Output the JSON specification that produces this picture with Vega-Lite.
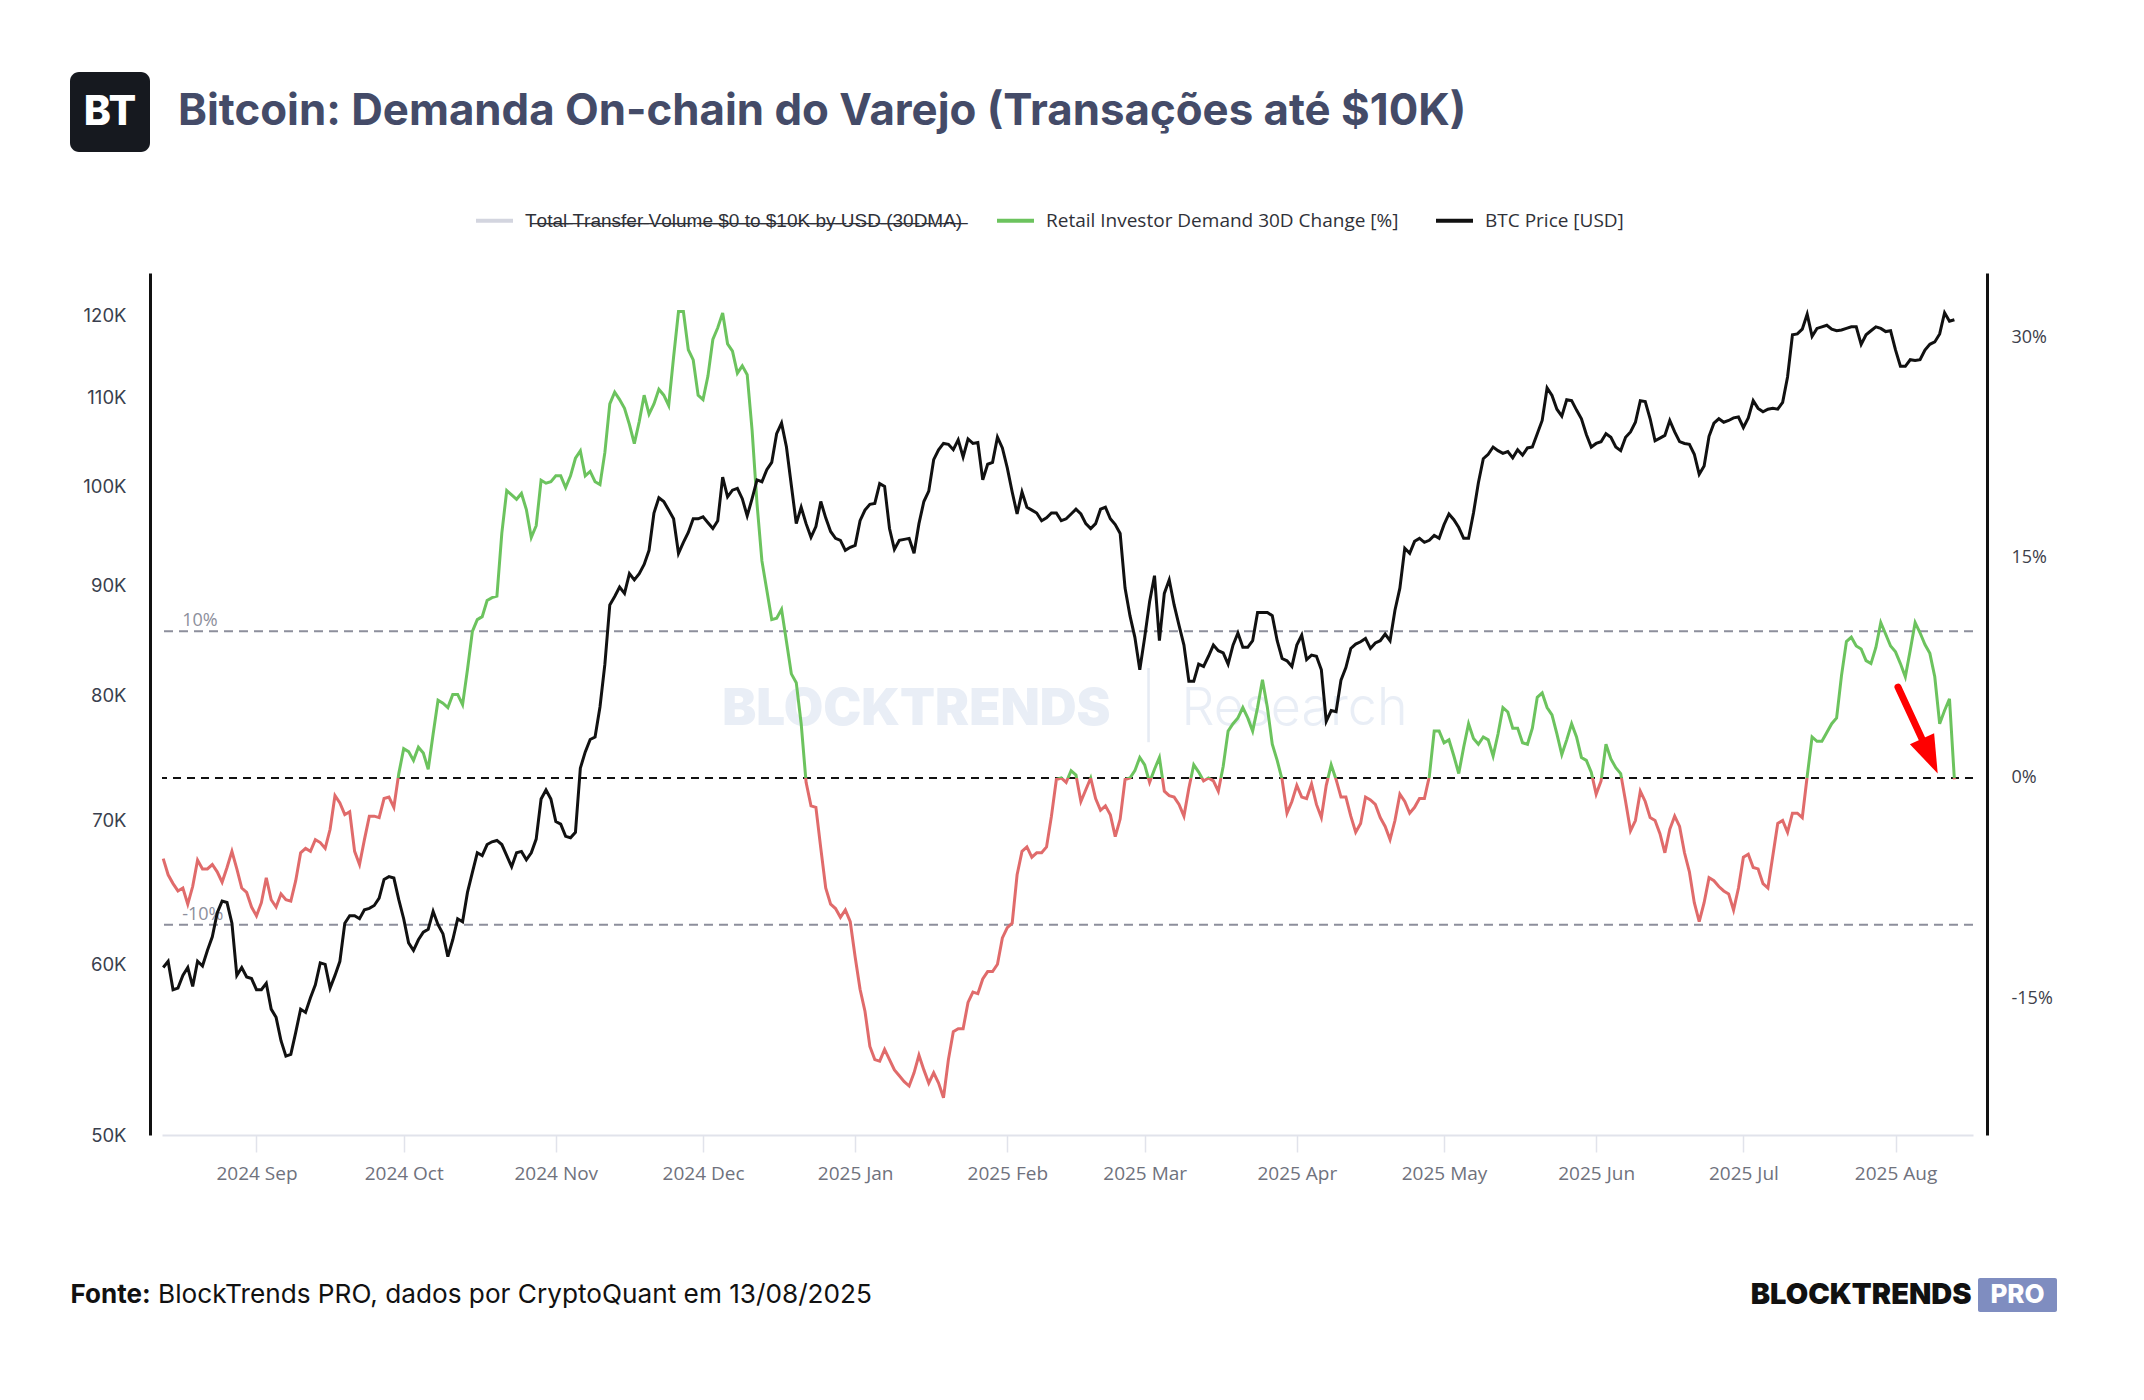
{
  "$schema": "https://vega.github.io/schema/vega-lite/v6.json",
  "background": "#ffffff",
  "padding": {"left": 70, "top": 66, "right": 0, "bottom": 0},
  "config": {"view": {"stroke": null}},
  "datasets": {
    "series": [
      {"d":"2024-08-13","p":59800,"r":-5.5},{"d":"2024-08-14","p":60200,"r":-6.6},{"d":"2024-08-15","p":58400,"r":-7.2},{"d":"2024-08-16","p":58500,"r":-7.7},
      {"d":"2024-08-17","p":59300,"r":-7.5},{"d":"2024-08-18","p":59800,"r":-8.6},{"d":"2024-08-19","p":58600,"r":-7.4},{"d":"2024-08-20","p":60200,"r":-5.6},
      {"d":"2024-08-21","p":59900,"r":-6.2},{"d":"2024-08-22","p":60900,"r":-6.2},{"d":"2024-08-23","p":61800,"r":-5.9},{"d":"2024-08-24","p":63400,"r":-6.4},
      {"d":"2024-08-25","p":64200,"r":-7.1},{"d":"2024-08-26","p":64100,"r":-6.1},{"d":"2024-08-27","p":62700,"r":-5.0},{"d":"2024-08-28","p":59300,"r":-6.2},
      {"d":"2024-08-29","p":59800,"r":-7.5},{"d":"2024-08-30","p":59200,"r":-7.8},{"d":"2024-08-31","p":59100,"r":-8.8},
      {"d":"2024-09-01","p":58400,"r":-9.4},{"d":"2024-09-02","p":58400,"r":-8.5},{"d":"2024-09-03","p":58800,"r":-6.8},{"d":"2024-09-04","p":57200,"r":-8.3},
      {"d":"2024-09-05","p":56700,"r":-8.8},{"d":"2024-09-06","p":55300,"r":-7.9},{"d":"2024-09-07","p":54400,"r":-8.3},{"d":"2024-09-08","p":54500,"r":-8.4},
      {"d":"2024-09-09","p":55800,"r":-7.0},{"d":"2024-09-10","p":57200,"r":-5.1},{"d":"2024-09-11","p":57000,"r":-4.8},{"d":"2024-09-12","p":57900,"r":-5.0},
      {"d":"2024-09-13","p":58700,"r":-4.2},{"d":"2024-09-14","p":60100,"r":-4.4},{"d":"2024-09-15","p":60000,"r":-4.8},{"d":"2024-09-16","p":58500,"r":-3.5},
      {"d":"2024-09-17","p":59300,"r":-1.2},{"d":"2024-09-18","p":60200,"r":-1.7},{"d":"2024-09-19","p":62700,"r":-2.5},{"d":"2024-09-20","p":63200,"r":-2.3},
      {"d":"2024-09-21","p":63200,"r":-5.0},{"d":"2024-09-22","p":63000,"r":-5.9},{"d":"2024-09-23","p":63600,"r":-4.2},{"d":"2024-09-24","p":63700,"r":-2.6},
      {"d":"2024-09-25","p":63900,"r":-2.6},{"d":"2024-09-26","p":64400,"r":-2.7},{"d":"2024-09-27","p":65700,"r":-1.4},{"d":"2024-09-28","p":65900,"r":-1.3},
      {"d":"2024-09-29","p":65800,"r":-2.0},{"d":"2024-09-30","p":64300,"r":0.3},
      {"d":"2024-10-01","p":63000,"r":2.0},{"d":"2024-10-02","p":61400,"r":1.8},{"d":"2024-10-03","p":60900,"r":1.2},{"d":"2024-10-04","p":61600,"r":2.1},
      {"d":"2024-10-05","p":62100,"r":1.7},{"d":"2024-10-06","p":62300,"r":0.6},{"d":"2024-10-07","p":63500,"r":3.0},{"d":"2024-10-08","p":62600,"r":5.3},
      {"d":"2024-10-09","p":62000,"r":5.1},{"d":"2024-10-10","p":60500,"r":4.8},{"d":"2024-10-11","p":61600,"r":5.7},{"d":"2024-10-12","p":63000,"r":5.7},
      {"d":"2024-10-13","p":62800,"r":5.0},{"d":"2024-10-14","p":64800,"r":7.4},{"d":"2024-10-15","p":66200,"r":10.0},{"d":"2024-10-16","p":67600,"r":10.8},
      {"d":"2024-10-17","p":67400,"r":11.0},{"d":"2024-10-18","p":68200,"r":12.1},{"d":"2024-10-19","p":68400,"r":12.3},{"d":"2024-10-20","p":68500,"r":12.4},
      {"d":"2024-10-21","p":68200,"r":16.7},{"d":"2024-10-22","p":67400,"r":19.6},{"d":"2024-10-23","p":66600,"r":19.3},{"d":"2024-10-24","p":67600,"r":19.0},
      {"d":"2024-10-25","p":67700,"r":19.4},{"d":"2024-10-26","p":67100,"r":18.3},{"d":"2024-10-27","p":67600,"r":16.4},{"d":"2024-10-28","p":68600,"r":17.2},
      {"d":"2024-10-29","p":71600,"r":20.3},{"d":"2024-10-30","p":72300,"r":20.1},{"d":"2024-10-31","p":71600,"r":20.2},
      {"d":"2024-11-01","p":69900,"r":20.6},{"d":"2024-11-02","p":69700,"r":20.6},{"d":"2024-11-03","p":68800,"r":19.8},{"d":"2024-11-04","p":68700,"r":20.6},
      {"d":"2024-11-05","p":69100,"r":21.8},{"d":"2024-11-06","p":74000,"r":22.3},{"d":"2024-11-07","p":75300,"r":20.6},{"d":"2024-11-08","p":76300,"r":20.9},
      {"d":"2024-11-09","p":76500,"r":20.2},{"d":"2024-11-10","p":79000,"r":20.0},{"d":"2024-11-11","p":82700,"r":22.2},{"d":"2024-11-12","p":88100,"r":25.5},
      {"d":"2024-11-13","p":88900,"r":26.3},{"d":"2024-11-14","p":89800,"r":25.8},{"d":"2024-11-15","p":89200,"r":25.2},{"d":"2024-11-16","p":91100,"r":24.1},
      {"d":"2024-11-17","p":90500,"r":22.8},{"d":"2024-11-18","p":91100,"r":24.3},{"d":"2024-11-19","p":92000,"r":26.1},{"d":"2024-11-20","p":93400,"r":24.8},
      {"d":"2024-11-21","p":97200,"r":25.5},{"d":"2024-11-22","p":98800,"r":26.5},{"d":"2024-11-23","p":98400,"r":26.1},{"d":"2024-11-24","p":97500,"r":25.4},
      {"d":"2024-11-25","p":96600,"r":28.7},{"d":"2024-11-26","p":93100,"r":31.8},{"d":"2024-11-27","p":94200,"r":31.8},{"d":"2024-11-28","p":95200,"r":29.2},
      {"d":"2024-11-29","p":96600,"r":28.5},{"d":"2024-11-30","p":96600,"r":26.1},
      {"d":"2024-12-01","p":96800,"r":25.8},{"d":"2024-12-02","p":96200,"r":27.4},{"d":"2024-12-03","p":95600,"r":29.9},{"d":"2024-12-04","p":96400,"r":30.7},
      {"d":"2024-12-05","p":101000,"r":31.7},{"d":"2024-12-06","p":98900,"r":29.6},{"d":"2024-12-07","p":99600,"r":29.1},{"d":"2024-12-08","p":99800,"r":27.6},
      {"d":"2024-12-09","p":98700,"r":28.1},{"d":"2024-12-10","p":96900,"r":27.5},{"d":"2024-12-11","p":98700,"r":23.7},{"d":"2024-12-12","p":100700,"r":18.7},
      {"d":"2024-12-13","p":100500,"r":14.8},{"d":"2024-12-14","p":101800,"r":12.8},{"d":"2024-12-15","p":102600,"r":10.8},{"d":"2024-12-16","p":105800,"r":10.9},
      {"d":"2024-12-17","p":107000,"r":11.5},{"d":"2024-12-18","p":104300,"r":9.3},{"d":"2024-12-19","p":100100,"r":7.1},{"d":"2024-12-20","p":96100,"r":6.5},
      {"d":"2024-12-21","p":97800,"r":3.7},{"d":"2024-12-22","p":96100,"r":-0.3},{"d":"2024-12-23","p":94700,"r":-1.9},{"d":"2024-12-24","p":95800,"r":-2.0},
      {"d":"2024-12-25","p":98400,"r":-4.8},{"d":"2024-12-26","p":96700,"r":-7.5},{"d":"2024-12-27","p":95300,"r":-8.6},{"d":"2024-12-28","p":94600,"r":-8.9},
      {"d":"2024-12-29","p":94400,"r":-9.5},{"d":"2024-12-30","p":93400,"r":-9.0},{"d":"2024-12-31","p":93700,"r":-9.8},
      {"d":"2025-01-01","p":93900,"r":-12.2},{"d":"2025-01-02","p":96400,"r":-14.4},{"d":"2025-01-03","p":97500,"r":-15.9},{"d":"2025-01-04","p":98100,"r":-18.3},
      {"d":"2025-01-05","p":98200,"r":-19.2},{"d":"2025-01-06","p":100300,"r":-19.3},{"d":"2025-01-07","p":100000,"r":-18.5},{"d":"2025-01-08","p":95600,"r":-19.2},
      {"d":"2025-01-09","p":93500,"r":-19.9},{"d":"2025-01-10","p":94400,"r":-20.3},{"d":"2025-01-11","p":94500,"r":-20.7},{"d":"2025-01-12","p":94600,"r":-21.0},
      {"d":"2025-01-13","p":93100,"r":-20.1},{"d":"2025-01-14","p":96100,"r":-18.9},{"d":"2025-01-15","p":98400,"r":-19.9},{"d":"2025-01-16","p":99500,"r":-20.8},
      {"d":"2025-01-17","p":102900,"r":-20.1},{"d":"2025-01-18","p":104000,"r":-20.8},{"d":"2025-01-19","p":104700,"r":-21.8},{"d":"2025-01-20","p":104600,"r":-19.2},
      {"d":"2025-01-21","p":104000,"r":-17.3},{"d":"2025-01-22","p":105100,"r":-17.1},{"d":"2025-01-23","p":103200,"r":-17.1},{"d":"2025-01-24","p":105200,"r":-15.3},
      {"d":"2025-01-25","p":104700,"r":-14.6},{"d":"2025-01-26","p":104800,"r":-14.7},{"d":"2025-01-27","p":100700,"r":-13.7},{"d":"2025-01-28","p":102400,"r":-13.2},
      {"d":"2025-01-29","p":102600,"r":-13.2},{"d":"2025-01-30","p":105400,"r":-12.7},{"d":"2025-01-31","p":104200,"r":-10.9},
      {"d":"2025-02-01","p":102000,"r":-10.2},{"d":"2025-02-02","p":99400,"r":-9.9},{"d":"2025-02-03","p":97100,"r":-6.6},{"d":"2025-02-04","p":99400,"r":-5.0},
      {"d":"2025-02-05","p":97800,"r":-4.7},{"d":"2025-02-06","p":97500,"r":-5.4},{"d":"2025-02-07","p":97200,"r":-5.1},{"d":"2025-02-08","p":96400,"r":-5.1},
      {"d":"2025-02-09","p":96700,"r":-4.7},{"d":"2025-02-10","p":97200,"r":-2.6},{"d":"2025-02-11","p":97200,"r":-0.1},{"d":"2025-02-12","p":96400,"r":0.0},
      {"d":"2025-02-13","p":96600,"r":-0.3},{"d":"2025-02-14","p":97100,"r":0.5},{"d":"2025-02-15","p":97600,"r":0.2},{"d":"2025-02-16","p":97100,"r":-1.6},
      {"d":"2025-02-17","p":96100,"r":-0.8},{"d":"2025-02-18","p":95600,"r":0.0},{"d":"2025-02-19","p":96100,"r":-1.4},{"d":"2025-02-20","p":97600,"r":-2.2},
      {"d":"2025-02-21","p":97800,"r":-1.9},{"d":"2025-02-22","p":96600,"r":-2.5},{"d":"2025-02-23","p":96000,"r":-4.0},{"d":"2025-02-24","p":95100,"r":-2.8},
      {"d":"2025-02-25","p":89700,"r":-0.1},{"d":"2025-02-26","p":87100,"r":0.0},{"d":"2025-02-27","p":85100,"r":0.5},{"d":"2025-02-28","p":82200,"r":1.4},
      {"d":"2025-03-01","p":85100,"r":0.9},{"d":"2025-03-02","p":88400,"r":-0.3},{"d":"2025-03-03","p":90900,"r":0.6},{"d":"2025-03-04","p":84800,"r":1.4},
      {"d":"2025-03-05","p":89200,"r":-0.9},{"d":"2025-03-06","p":90500,"r":-1.2},{"d":"2025-03-07","p":88100,"r":-1.3},{"d":"2025-03-08","p":86200,"r":-1.8},
      {"d":"2025-03-09","p":84400,"r":-2.6},{"d":"2025-03-10","p":81200,"r":-0.7},{"d":"2025-03-11","p":81200,"r":0.9},{"d":"2025-03-12","p":82700,"r":0.4},
      {"d":"2025-03-13","p":82500,"r":-0.2},{"d":"2025-03-14","p":83400,"r":0.0},{"d":"2025-03-15","p":84400,"r":-0.2},{"d":"2025-03-16","p":83900,"r":-0.9},
      {"d":"2025-03-17","p":83700,"r":0.8},{"d":"2025-03-18","p":82700,"r":3.2},{"d":"2025-03-19","p":84400,"r":3.7},{"d":"2025-03-20","p":85500,"r":4.1},
      {"d":"2025-03-21","p":84200,"r":4.8},{"d":"2025-03-22","p":84200,"r":4.1},{"d":"2025-03-23","p":84800,"r":3.2},{"d":"2025-03-24","p":87400,"r":4.8},
      {"d":"2025-03-25","p":87400,"r":6.7},{"d":"2025-03-26","p":87400,"r":4.8},{"d":"2025-03-27","p":87100,"r":2.3},{"d":"2025-03-28","p":84800,"r":1.2},
      {"d":"2025-03-29","p":83200,"r":-0.1},{"d":"2025-03-30","p":83000,"r":-2.4},{"d":"2025-03-31","p":82500,"r":-1.6},
      {"d":"2025-04-01","p":84400,"r":-0.5},{"d":"2025-04-02","p":85300,"r":-1.3},{"d":"2025-04-03","p":83100,"r":-1.4},{"d":"2025-04-04","p":83500,"r":-0.4},
      {"d":"2025-04-05","p":83400,"r":-1.8},{"d":"2025-04-06","p":82200,"r":-2.7},{"d":"2025-04-07","p":77800,"r":-0.5},{"d":"2025-04-08","p":78700,"r":0.9},
      {"d":"2025-04-09","p":78600,"r":-0.1},{"d":"2025-04-10","p":81300,"r":-1.3},{"d":"2025-04-11","p":82400,"r":-1.3},{"d":"2025-04-12","p":84100,"r":-2.6},
      {"d":"2025-04-13","p":84500,"r":-3.7},{"d":"2025-04-14","p":84700,"r":-3.1},{"d":"2025-04-15","p":85000,"r":-1.3},{"d":"2025-04-16","p":84100,"r":-1.5},
      {"d":"2025-04-17","p":84600,"r":-1.8},{"d":"2025-04-18","p":84800,"r":-2.7},{"d":"2025-04-19","p":85400,"r":-3.3},{"d":"2025-04-20","p":84800,"r":-4.2},
      {"d":"2025-04-21","p":87600,"r":-2.9},{"d":"2025-04-22","p":89700,"r":-1.1},{"d":"2025-04-23","p":93600,"r":-1.6},{"d":"2025-04-24","p":93100,"r":-2.4},
      {"d":"2025-04-25","p":94300,"r":-2.0},{"d":"2025-04-26","p":94600,"r":-1.4},{"d":"2025-04-27","p":94200,"r":-1.4},{"d":"2025-04-28","p":94400,"r":0.1},
      {"d":"2025-04-29","p":94900,"r":3.2},{"d":"2025-04-30","p":94600,"r":3.2},
      {"d":"2025-05-01","p":96000,"r":2.4},{"d":"2025-05-02","p":97100,"r":2.6},{"d":"2025-05-03","p":96500,"r":1.5},{"d":"2025-05-04","p":95700,"r":0.3},
      {"d":"2025-05-05","p":94600,"r":2.1},{"d":"2025-05-06","p":94600,"r":3.7},{"d":"2025-05-07","p":97200,"r":2.7},{"d":"2025-05-08","p":100400,"r":2.3},
      {"d":"2025-05-09","p":103000,"r":2.8},{"d":"2025-05-10","p":103500,"r":2.6},{"d":"2025-05-11","p":104300,"r":1.5},{"d":"2025-05-12","p":103900,"r":3.0},
      {"d":"2025-05-13","p":103600,"r":4.8},{"d":"2025-05-14","p":103800,"r":4.5},{"d":"2025-05-15","p":103100,"r":3.4},{"d":"2025-05-16","p":104000,"r":3.4},
      {"d":"2025-05-17","p":103400,"r":2.4},{"d":"2025-05-18","p":104200,"r":2.3},{"d":"2025-05-19","p":104300,"r":3.4},{"d":"2025-05-20","p":105800,"r":5.5},
      {"d":"2025-05-21","p":107300,"r":5.8},{"d":"2025-05-22","p":111100,"r":4.8},{"d":"2025-05-23","p":110200,"r":4.3},{"d":"2025-05-24","p":108600,"r":3.0},
      {"d":"2025-05-25","p":107800,"r":1.6},{"d":"2025-05-26","p":109700,"r":2.6},{"d":"2025-05-27","p":109600,"r":3.7},{"d":"2025-05-28","p":108500,"r":2.8},
      {"d":"2025-05-29","p":107500,"r":1.4},{"d":"2025-05-30","p":105700,"r":1.2},{"d":"2025-05-31","p":104300,"r":0.4},
      {"d":"2025-06-01","p":104700,"r":-1.1},{"d":"2025-06-02","p":104900,"r":-0.2},{"d":"2025-06-03","p":105800,"r":2.3},{"d":"2025-06-04","p":105400,"r":1.3},
      {"d":"2025-06-05","p":104300,"r":0.7},{"d":"2025-06-06","p":103900,"r":0.3},{"d":"2025-06-07","p":105400,"r":-1.6},{"d":"2025-06-08","p":106000,"r":-3.6},
      {"d":"2025-06-09","p":107100,"r":-2.9},{"d":"2025-06-10","p":109600,"r":-0.9},{"d":"2025-06-11","p":109500,"r":-1.6},{"d":"2025-06-12","p":107500,"r":-2.7},
      {"d":"2025-06-13","p":105000,"r":-2.9},{"d":"2025-06-14","p":105300,"r":-3.8},{"d":"2025-06-15","p":105600,"r":-5.1},{"d":"2025-06-16","p":107300,"r":-3.5},
      {"d":"2025-06-17","p":106000,"r":-2.6},{"d":"2025-06-18","p":104900,"r":-3.3},{"d":"2025-06-19","p":104700,"r":-5.1},{"d":"2025-06-20","p":104600,"r":-6.4},
      {"d":"2025-06-21","p":103500,"r":-8.5},{"d":"2025-06-22","p":101300,"r":-9.8},{"d":"2025-06-23","p":102200,"r":-8.5},{"d":"2025-06-24","p":105500,"r":-6.8},
      {"d":"2025-06-25","p":107000,"r":-7.0},{"d":"2025-06-26","p":107500,"r":-7.4},{"d":"2025-06-27","p":107100,"r":-7.7},{"d":"2025-06-28","p":107300,"r":-7.9},
      {"d":"2025-06-29","p":107600,"r":-9.0},{"d":"2025-06-30","p":107700,"r":-7.5},
      {"d":"2025-07-01","p":106500,"r":-5.4},{"d":"2025-07-02","p":107600,"r":-5.2},{"d":"2025-07-03","p":109600,"r":-6.1},{"d":"2025-07-04","p":108700,"r":-6.2},
      {"d":"2025-07-05","p":108300,"r":-7.2},{"d":"2025-07-06","p":108600,"r":-7.5},{"d":"2025-07-07","p":108700,"r":-5.3},{"d":"2025-07-08","p":108600,"r":-3.1},
      {"d":"2025-07-09","p":109400,"r":-2.9},{"d":"2025-07-10","p":112400,"r":-3.7},{"d":"2025-07-11","p":117600,"r":-2.4},{"d":"2025-07-12","p":117700,"r":-2.4},
      {"d":"2025-07-13","p":118300,"r":-2.7},{"d":"2025-07-14","p":120200,"r":0.1},{"d":"2025-07-15","p":117400,"r":2.8},{"d":"2025-07-16","p":118400,"r":2.5},
      {"d":"2025-07-17","p":118600,"r":2.5},{"d":"2025-07-18","p":118800,"r":3.1},{"d":"2025-07-19","p":118300,"r":3.7},{"d":"2025-07-20","p":118100,"r":4.1},
      {"d":"2025-07-21","p":118200,"r":7.0},{"d":"2025-07-22","p":118400,"r":9.3},{"d":"2025-07-23","p":118600,"r":9.6},{"d":"2025-07-24","p":118600,"r":9.0},
      {"d":"2025-07-25","p":116400,"r":8.8},{"d":"2025-07-26","p":117600,"r":8.0},{"d":"2025-07-27","p":118100,"r":7.8},{"d":"2025-07-28","p":118600,"r":8.9},
      {"d":"2025-07-29","p":118400,"r":10.6},{"d":"2025-07-30","p":118000,"r":9.8},{"d":"2025-07-31","p":118100,"r":9.0},
      {"d":"2025-08-01","p":115700,"r":8.6},{"d":"2025-08-02","p":113700,"r":7.8},{"d":"2025-08-03","p":113700,"r":6.9},{"d":"2025-08-04","p":114500,"r":8.7},
      {"d":"2025-08-05","p":114400,"r":10.6},{"d":"2025-08-06","p":114500,"r":9.9},{"d":"2025-08-07","p":115700,"r":9.1},{"d":"2025-08-08","p":116400,"r":8.5},
      {"d":"2025-08-09","p":116700,"r":6.9},{"d":"2025-08-10","p":117700,"r":3.7},{"d":"2025-08-11","p":120400,"r":4.6},{"d":"2025-08-12","p":119300,"r":5.4},
      {"d":"2025-08-13","p":119500,"r":-0.1}
    ]
  },
  "columns": 3,
  "align": "each",
  "bounds": "flush",
  "spacing": {"row": 22, "column": 5},
  "concat": [
    {
      "width": 80,
      "height": 80,
      "view": {"fill": "#16191f", "cornerRadius": 9, "stroke": null},
      "data": {"values": [{"t": "BT"}]},
      "mark": {"type": "text", "align": "center", "baseline": "middle", "dy": 1, "font": "Inter", "fontSize": 41, "fontWeight": 800, "color": "#ffffff"},
      "encoding": {"text": {"field": "t"}}
    },
    {
      "width": 32,
      "height": 80,
      "data": {"values": [{"t": "Bitcoin: Demanda On-chain do Varejo (Transações até $10K)"}]},
      "mark": {"type": "text", "align": "left", "baseline": "middle", "font": "Inter", "fontSize": 43.8, "fontWeight": 700, "color": "#444b68"},
      "encoding": {"text": {"field": "t"}}
    },
    {"width": 1, "height": 1, "data": {"values": [{}]}, "mark": {"type": "text"}, "encoding": {"text": {"value": ""}}},

    {"width": 87, "height": 77, "data": {"values": [{}]}, "mark": {"type": "text"}, "encoding": {"text": {"value": ""}}},
    {"width": 1, "height": 1, "data": {"values": [{}]}, "mark": {"type": "text"}, "encoding": {"text": {"value": ""}}},
    {"width": 1, "height": 1, "data": {"values": [{}]}, "mark": {"type": "text"}, "encoding": {"text": {"value": ""}}},

    {"width": 1, "height": 1, "data": {"values": [{}]}, "mark": {"type": "text"}, "encoding": {"text": {"value": ""}}},
    {
      "width": 1811,
      "height": 862,
      "resolve": {"scale": {"y": "independent"}},
      "layer": [
        {
          "data": {"values": [{"t": "BLOCKTRENDS"}]},
          "mark": {"type": "text", "align": "right", "baseline": "alphabetic", "dx": 43, "dy": 21, "font": "Inter", "fontSize": 51, "fontWeight": 900, "color": "#e9eef6"},
          "encoding": {"text": {"field": "t"}}
        },
        {
          "data": {"values": [{"t": "|"}]},
          "mark": {"type": "text", "align": "center", "baseline": "alphabetic", "dx": 81, "dy": 24, "font": "Inter", "fontSize": 62, "fontWeight": 200, "color": "#e6ebf3"},
          "encoding": {"text": {"field": "t"}}
        },
        {
          "data": {"values": [{"t": "Research"}]},
          "mark": {"type": "text", "align": "left", "baseline": "alphabetic", "dx": 114, "dy": 21, "font": "Inter", "fontSize": 52, "fontWeight": 300, "color": "#e9eef6"},
          "encoding": {"text": {"field": "t"}}
        },
        {
          "layer": [
            {
              "data": {"values": [{"r": 10}, {"r": -10}]},
              "mark": {"type": "rule", "color": "#8d8f9c", "strokeWidth": 2, "strokeDash": [9, 6]},
              "encoding": {"y": {"field": "r", "type": "quantitative"}}
            },
            {
              "data": {"values": [{"r": 0}]},
              "mark": {"type": "rule", "color": "#111111", "strokeWidth": 2, "strokeDash": [8, 6]},
              "encoding": {"y": {"field": "r", "type": "quantitative"}}
            },
            {
              "data": {"values": [{"d": "2024-08-13", "r": 10, "t": "10%"}, {"d": "2024-08-13", "r": -10, "t": "-10%"}]},
              "mark": {"type": "text", "align": "left", "baseline": "alphabetic", "dx": 19, "dy": -5, "font": "Open Sans", "fontSize": 18, "color": "#8d8f9c"},
              "encoding": {
                "x": {"field": "d", "type": "temporal"},
                "y": {"field": "r", "type": "quantitative"},
                "text": {"field": "t"}
              }
            },
            {
              "data": {"name": "series"},
              "mark": {
                "type": "line",
                "strokeWidth": 3,
                "stroke": {
                  "gradient": "linear",
                  "x1": 0, "y1": 0, "x2": 0, "y2": 1,
                  "stops": [
                    {"offset": 0, "color": "#6cc35e"},
                    {"offset": 0.5933, "color": "#6cc35e"},
                    {"offset": 0.5933, "color": "#e06b6b"},
                    {"offset": 1, "color": "#e06b6b"}
                  ]
                }
              },
              "encoding": {
                "x": {"field": "d", "type": "temporal"},
                "y": {
                  "field": "r",
                  "type": "quantitative",
                  "scale": {"domain": [-24.34, 34.43], "nice": false, "zero": false},
                  "axis": {
                    "orient": "right",
                    "title": null,
                    "offset": 14,
                    "values": [-15, 0, 15, 30],
                    "labelExpr": "datum.value + '%'",
                    "domainColor": "#111111",
                    "domainWidth": 3,
                    "ticks": false,
                    "tickSize": 0,
                    "grid": false,
                    "labelPadding": 24,
                    "labelFont": "Open Sans",
                    "labelFontSize": 18,
                    "labelColor": "#3d404a",
                    "labelOverlap": false
                  }
                }
              }
            },
            {
              "data": {"values": [{"d": "2025-08-01T12:00:00Z", "d2": "2025-08-06T10:00:00Z", "r": 6.2, "r2": 2.65}]},
              "mark": {"type": "rule", "color": "#ff0000", "strokeWidth": 7, "strokeCap": "round"},
              "encoding": {
                "x": {"field": "d", "type": "temporal"},
                "x2": {"field": "d2"},
                "y": {"field": "r", "type": "quantitative"},
                "y2": {"field": "r2"}
              }
            },
            {
              "data": {"values": [{"d": "2025-08-08T00:00:00Z", "r": 1.49}]},
              "mark": {"type": "point", "shape": "M-0.7,-1L0.7,-1L0,1Z", "size": 1444, "filled": true, "opacity": 1, "color": "#ff0000", "angle": -24.4},
              "encoding": {
                "x": {"field": "d", "type": "temporal"},
                "y": {"field": "r", "type": "quantitative"}
              }
            }
          ]
        },
        {
          "data": {"name": "series"},
          "mark": {"type": "line", "strokeWidth": 3},
          "encoding": {
            "x": {
              "field": "d",
              "type": "temporal",
              "scale": {
                "type": "utc",
                "domain": [
                  {"year": 2024, "month": 8, "date": 12, "hours": 18, "utc": true},
                  {"year": 2025, "month": 8, "date": 16, "hours": 19, "utc": true}
                ]
              },
              "axis": {
                "title": null,
                "values": [
                  {"year": 2024, "month": 9, "date": 1, "utc": true},
                  {"year": 2024, "month": 10, "date": 1, "utc": true},
                  {"year": 2024, "month": 11, "date": 1, "utc": true},
                  {"year": 2024, "month": 12, "date": 1, "utc": true},
                  {"year": 2025, "month": 1, "date": 1, "utc": true},
                  {"year": 2025, "month": 2, "date": 1, "utc": true},
                  {"year": 2025, "month": 3, "date": 1, "utc": true},
                  {"year": 2025, "month": 4, "date": 1, "utc": true},
                  {"year": 2025, "month": 5, "date": 1, "utc": true},
                  {"year": 2025, "month": 6, "date": 1, "utc": true},
                  {"year": 2025, "month": 7, "date": 1, "utc": true},
                  {"year": 2025, "month": 8, "date": 1, "utc": true}
                ],
                "format": "%Y %b",
                "domainColor": "#e1e3eb",
                "domainWidth": 2,
                "tickColor": "#e1e3eb",
                "tickWidth": 1.5,
                "tickSize": 17,
                "grid": false,
                "labelFont": "Open Sans",
                "labelFontSize": 19,
                "labelColor": "#6f727d",
                "labelPadding": 12,
                "labelFlush": false,
                "labelOverlap": false
              }
            },
            "y": {
              "field": "p",
              "type": "quantitative",
              "scale": {"type": "log", "domain": [50000, 125620], "nice": false},
              "axis": {
                "orient": "left",
                "title": null,
                "offset": 12,
                "values": [50000, 60000, 70000, 80000, 90000, 100000, 110000, 120000],
                "labelExpr": "format(datum.value / 1000, 'd') + 'K'",
                "domainColor": "#111111",
                "domainWidth": 3,
                "ticks": false,
                "tickSize": 0,
                "grid": false,
                "labelPadding": 24,
                "labelFont": "Inter",
                "labelFontSize": 18.5,
                "labelColor": "#3a3f4e",
                "labelOverlap": false
              }
            },
            "color": {
              "datum": "BTC Price [USD]",
              "scale": {
                "domain": ["Total Transfer Volume $0 to $10K by USD (30DMA)", "Retail Investor Demand 30D Change [%]", "BTC Price [USD]"],
                "range": ["#d3d5df", "#6cc35e", "#111111"]
              },
              "legend": {
                "orient": "none",
                "legendX": 404,
                "legendY": 128,
                "direction": "horizontal",
                "title": null,
                "padding": 0,
                "symbolType": "stroke",
                "symbolStrokeWidth": 4,
                "symbolSize": 1369,
                "labelFont": "Open Sans, Liberation Sans, DejaVu Sans",
                "labelFontSize": 19,
                "labelColor": "#2f3138",
                "labelOffset": 10,
                "labelLimit": 700,
                "columnPadding": 29,
                "labelExpr": "datum.value === 'Total Transfer Volume $0 to $10K by USD (30DMA)' ? 'T\u0336o\u0336t\u0336a\u0336l\u0336 \u0336T\u0336r\u0336a\u0336n\u0336s\u0336f\u0336e\u0336r\u0336 \u0336V\u0336o\u0336l\u0336u\u0336m\u0336e\u0336 \u0336$\u03360\u0336 \u0336t\u0336o\u0336 \u0336$\u03361\u03360\u0336K\u0336 \u0336b\u0336y\u0336 \u0336U\u0336S\u0336D\u0336 \u0336(\u03363\u03360\u0336D\u0336M\u0336A\u0336)\u0336' : datum.label",
                "encode": {
                  "labels": {
                    "fill": {
                      "condition": {"test": "datum.value === 'Total Transfer Volume $0 to $10K by USD (30DMA)'", "value": "#8e909b"},
                      "value": "#2f3138"
                    }
                  }
                }
              }
            }
          }
        }
      ]
    },
    {"width": 1, "height": 1, "data": {"values": [{}]}, "mark": {"type": "text"}, "encoding": {"text": {"value": ""}}},

    {"width": 1, "height": 99, "data": {"values": [{}]}, "mark": {"type": "text"}, "encoding": {"text": {"value": ""}}},
    {"width": 1, "height": 1, "data": {"values": [{}]}, "mark": {"type": "text"}, "encoding": {"text": {"value": ""}}},
    {"width": 1, "height": 1, "data": {"values": [{}]}, "mark": {"type": "text"}, "encoding": {"text": {"value": ""}}},

    {
      "width": 1,
      "height": 34,
      "data": {"values": [{"t": "Fonte:"}]},
      "mark": {"type": "text", "align": "left", "baseline": "middle", "font": "Inter", "fontSize": 26, "fontWeight": 700, "color": "#111111"},
      "encoding": {"text": {"field": "t"}}
    },
    {
      "width": 1420,
      "height": 34,
      "data": {"values": [{"t": "BlockTrends PRO, dados por CryptoQuant em 13/08/2025"}]},
      "mark": {"type": "text", "align": "right", "baseline": "middle", "font": "Inter", "fontSize": 26.2, "fontWeight": 400, "color": "#111111"},
      "encoding": {"text": {"field": "t"}}
    },
    {
      "width": 79,
      "height": 34,
      "view": {"fill": "#7f8dc0", "cornerRadius": 2, "stroke": null},
      "layer": [
        {
          "data": {"values": [{"t": "BLOCKTRENDS"}]},
          "mark": {"type": "text", "align": "right", "baseline": "middle", "dx": -46, "font": "Inter", "fontSize": 29, "fontWeight": 900, "color": "#111111"},
          "encoding": {"text": {"field": "t"}}
        },
        {
          "data": {"values": [{"t": "PRO"}]},
          "mark": {"type": "text", "align": "center", "baseline": "middle", "font": "Inter", "fontSize": 26, "fontWeight": 800, "color": "#ffffff"},
          "encoding": {"text": {"field": "t"}}
        }
      ]
    }
  ]
}
